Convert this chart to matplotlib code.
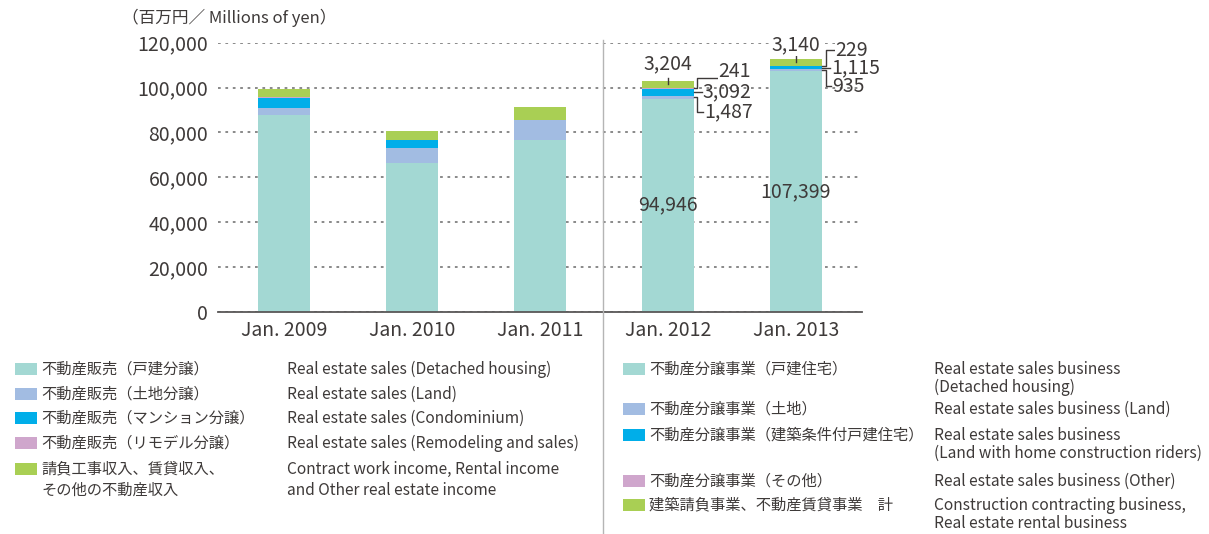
import matplotlib
matplotlib.use("Agg")
from matplotlib import pyplot as plt
from matplotlib.lines import Line2D
from matplotlib.patches import Rectangle

plt.rcParams['font.family'] = ['Noto Sans CJK JP', 'DejaVu Sans']

# Data (millions of yen)
years = ['Jan. 2009', 'Jan. 2010', 'Jan. 2011', 'Jan. 2012', 'Jan. 2013']
detached = [87640, 66300, 76800, 94946, 107399]
land = [3060, 6560, 8630, 1487, 935]
condo = [4540, 3940, 0, 3092, 1115]
remodel = [740, 0, 0, 241, 229]
other = [3270, 3940, 5820, 3204, 3140]

yticks = [0, 20000, 40000, 60000, 80000, 100000, 120000]

colors = ['#a3d8d3', '#a2bce2', '#00aee9', '#cfa6cc', '#a9cf54']
txt = '#3e3a39'

legend_left_jp = ['不動産販売（戸建分譲）', '不動産販売（土地分譲）', '不動産販売（マンション分譲）',
                  '不動産販売（リモデル分譲）', '請負工事収入、賃貸収入、\nその他の不動産収入']
legend_left_en = ['Real estate sales (Detached housing)', 'Real estate sales (Land)',
                  'Real estate sales (Condominium)', 'Real estate sales (Remodeling and sales)',
                  'Contract work income, Rental income\nand Other real estate income']
legend_right_jp = ['不動産分譲事業（戸建住宅）', '不動産分譲事業（土地）', '不動産分譲事業（建築条件付戸建住宅）',
                   '不動産分譲事業（その他）', '建築請負事業、不動産賃貸事業　計']
legend_right_en = ['Real estate sales business\n(Detached housing)', 'Real estate sales business (Land)',
                   'Real estate sales business\n(Land with home construction riders)',
                   'Real estate sales business (Other)',
                   'Construction contracting business,\nReal estate rental business']

W, H = 1209, 534
fig = plt.figure(figsize=(W / 100, H / 100), dpi=100)

def fx(px):
    return px / W

def fy(py):
    return 1 - py / H

ax = fig.add_axes([fx(218), fy(311.7), fx(862 - 218), (311.7 - 42.7) / H])

x = list(range(len(years)))
bw = 0.406
series = [detached, land, condo, remodel, other]
bottom = [0] * len(years)
for vals, c in zip(series, colors):
    ax.bar(x, vals, bw, bottom=bottom, color=c, zorder=2)
    bottom = [b + v for b, v in zip(bottom, vals)]
totals = bottom

ax.set_xlim(-0.516, 4.516)
ax.set_ylim(0, 120000)
ax.set_yticks(yticks)
ax.set_yticklabels(['{:,}'.format(v) for v in yticks])
ax.set_xticks(x)
ax.set_xticklabels(years)
ax.tick_params(axis='both', length=0, labelsize=14, colors=txt)
ax.tick_params(axis='y', pad=7)
ax.tick_params(axis='x', pad=6)
for s in ['top', 'right', 'left']:
    ax.spines[s].set_visible(False)
ax.spines['bottom'].set_color('#595757')
ax.spines['bottom'].set_linewidth(1.3)
ax.yaxis.grid(True, linestyle=(0, (1.5, 2.6)), color='#808080', lw=1.3)
ax.set_axisbelow(True)

# annotations for Jan. 2012 and Jan. 2013
ann = {
    3: dict(top_dy=7600, up=4450, up_txt=2950, down=-6480, reach=0.18, vx=0.023, mid_dy=300),
    4: dict(top_dy=6200, up=7000, up_txt=0, down=-7400, reach=0.094, vx=0.031, mid_dy=-200),
}
fs = 14
box = dict(fc='white', ec='none', pad=0.2)
lk = dict(color='#3e3a39', lw=1.0, clip_on=False, zorder=4)
for i, a in ann.items():
    edge = i + bw / 2
    tot = totals[i]
    ax.plot([i, i], [tot - 1300, tot + 1300], **lk)
    ax.text(i, tot + a['top_dy'], '{:,}'.format(other[i]), ha='center', va='center',
            fontsize=fs, color=txt, bbox=box, zorder=5)
    # remodel (pink) bracket up
    ypk = detached[i] + land[i] + condo[i] + remodel[i] / 2
    yl = ypk + a['up']
    ax.plot([edge, edge + a['vx'], edge + a['vx'], edge + a['reach']], [ypk, ypk, yl, yl], **lk)
    ax.text(edge + a['reach'] + 0.01, yl + a['up_txt'], '{:,}'.format(remodel[i]),
            ha='left', va='center', fontsize=fs, color=txt, bbox=box, zorder=5)
    # condo straight
    ybl = detached[i] + land[i] + condo[i] / 2
    ax.plot([edge, edge + 0.06], [ybl, ybl], **lk)
    ax.text(edge + 0.07, ybl + a['mid_dy'], '{:,}'.format(condo[i]), ha='left', va='center',
            fontsize=fs, color=txt, zorder=5)
    # land bracket down
    yld = detached[i] + land[i] / 2
    yd = yld + a['down']
    ax.plot([edge, edge + a['vx'], edge + a['vx'], edge + 0.07], [yld, yld, yd, yd], **lk)
    ax.text(edge + 0.08, yd, '{:,}'.format(land[i]), ha='left', va='center',
            fontsize=fs, color=txt, zorder=5)
    # detached value inside bar
    ax.text(i, detached[i] / 2, '{:,}'.format(detached[i]), ha='center', va='center',
            fontsize=fs, color=txt, zorder=5)

# unit label
fig.text(fx(122), fy(18), '（百万円／ Millions of yen）', ha='left', va='center',
         fontsize=12, color=txt)

# separator line
fig.add_artist(Line2D([fx(602.7), fx(602.7)], [fy(40), fy(534)], color='#b5b5b5', lw=1.0))

# legends
def draw_legend(rows_y, sq_x, jp_x, en_x, jp, en, line_h=19):
    for k in range(len(jp)):
        y = rows_y[k]
        fig.add_artist(Rectangle((fx(sq_x), fy(y + 6)), fx(22), 12 / H, color=colors[k], lw=0))
        for j, line in enumerate(jp[k].split('\n')):
            fig.text(fx(jp_x), fy(y + j * 21), line, ha='left', va='center', fontsize=11, color=txt)
        for j, line in enumerate(en[k].split('\n')):
            fig.text(fx(en_x), fy(y + j * line_h), line, ha='left', va='center', fontsize=11.2, color=txt)

draw_legend([369, 394, 418.3, 443.3, 469.3], 15, 41, 287, legend_left_jp, legend_left_en, line_h=21)
draw_legend([369, 409, 435, 481, 505], 623, 649, 934, legend_right_jp, legend_right_en, line_h=18)

fig.savefig('out.png', dpi=100)
